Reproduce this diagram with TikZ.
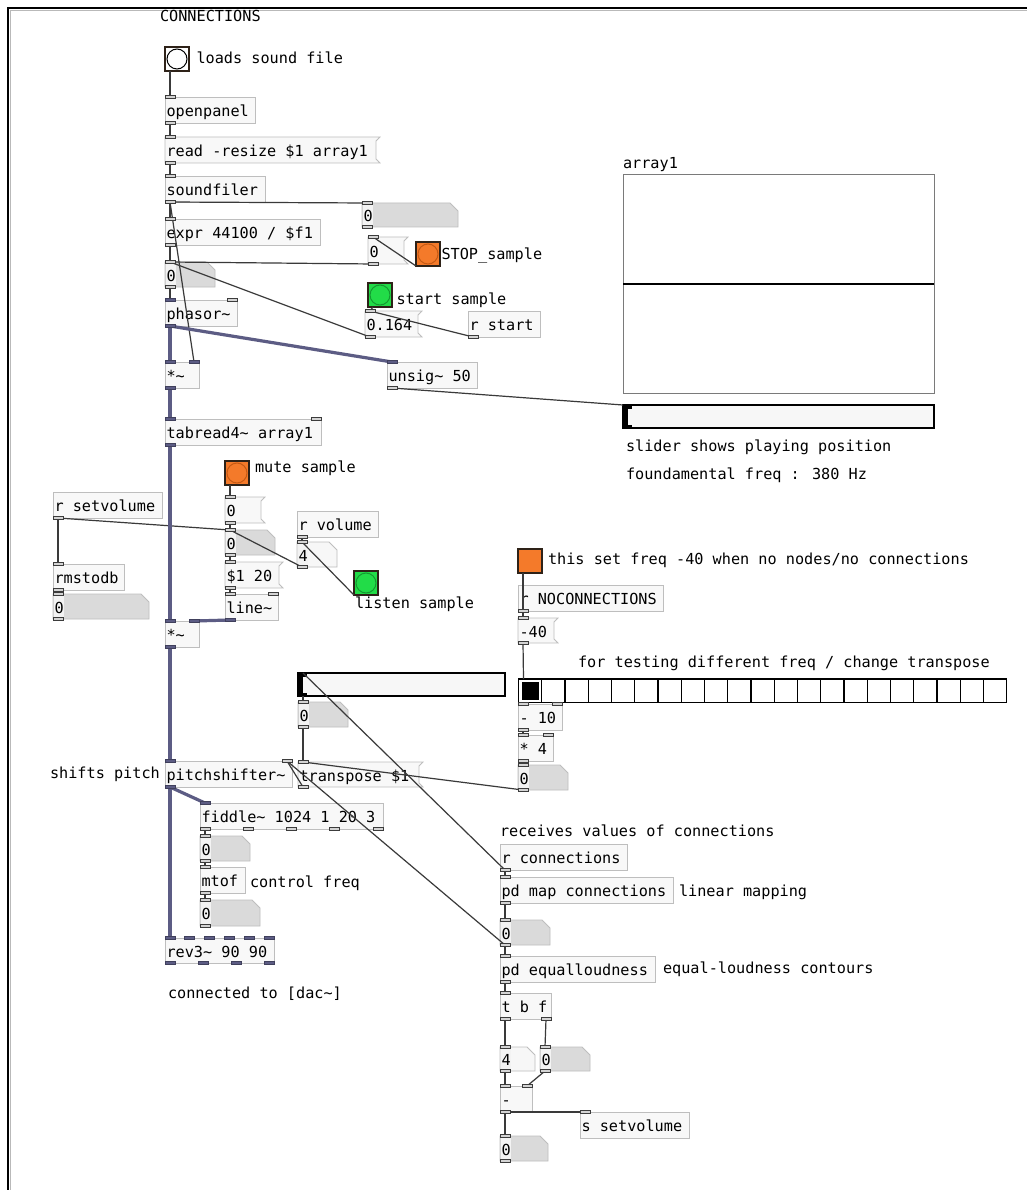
\documentclass[tikz,border=0pt]{standalone}
\usepackage{fontspec}
\newfontfamily\pdtt{DejaVu Sans Mono}
\usetikzlibrary{calc,backgrounds}
\definecolor{boxline}{HTML}{BEBEBE}
\definecolor{boxfill}{HTML}{F8F8F8}
\definecolor{atomgray}{HTML}{DADADA}
\definecolor{atomlite}{HTML}{F3F3F3}
\definecolor{atomwhite}{HTML}{F7F7F7}
\definecolor{wirec}{HTML}{3A3A3A}
\definecolor{sigc}{HTML}{5C5C84}
\definecolor{iolfill}{HTML}{D4D4D4}
\definecolor{iolline}{HTML}{3C3C3C}
\definecolor{bangorange}{HTML}{F47A2A}
\definecolor{orangeedge}{HTML}{C65A14}
\definecolor{banggreen}{HTML}{22DC48}
\definecolor{greenedge}{HTML}{149A30}
\definecolor{bangedge}{HTML}{2E2218}
\definecolor{guifill}{HTML}{F7F7F7}
\definecolor{arrline}{HTML}{7A7A7A}
\newcommand\tl{\textasciitilde}
\tikzset{
 pdnode/.style={anchor=north west, inner xsep=1.5pt, inner ysep=0pt, outer sep=0pt, text height=15pt, text depth=2pt},
 obj/.style={pdnode, draw=boxline, fill=boxfill, line width=0.8pt},
 msgshape/.style={draw=boxline, fill=boxfill, line width=0.8pt},
 atomshape/.style={draw=boxline, line width=0.8pt},
 cmt/.style={anchor=base west, inner sep=0pt, outer sep=0pt},
 ctl/.style={draw=wirec, line width=1.2pt},
 sig/.style={draw=sigc, line width=3.2pt},
 iol/.style={draw=iolline, fill=iolfill, line width=0.7pt},
 siol/.style={draw=sigc!70!black, fill=sigc, line width=0.7pt},
 bangbox/.style={anchor=north west, draw=bangedge, line width=1.2pt, minimum size=24pt, inner sep=0pt, outer sep=0pt},
 gui/.style={anchor=north west, draw=black, line width=1.3pt, fill=guifill, inner sep=0pt, outer sep=0pt},
 arraybox/.style={anchor=north west, draw=arrline, line width=1pt, fill=white, inner sep=0pt, outer sep=0pt},
}
% object box
\newcommand\pdobj[7][]{\pgfmathsetmacro\pdtw{#5-3}\node[obj,minimum width=#5pt,minimum height=#6pt,#1] (#2) at (#3,#4) {\makebox[\pdtw pt][l]{#7}};}
% message box
\newcommand\pdmsg[7][]{\pgfmathsetmacro\pdtw{#5-3}\node[pdnode,minimum width=#5pt,minimum height=#6pt,#1] (#2) at (#3,#4) {\makebox[\pdtw pt][l]{#7}};
 \begin{scope}[on background layer]\filldraw[msgshape] (#2.north west) -- ([xshift=4pt]#2.north east) -- ([yshift=-4pt]#2.north east) -- ([yshift=4pt]#2.south east) -- ([xshift=4pt]#2.south east) -- (#2.south west) -- cycle;\end{scope}}
% atom box
\newcommand\pdatom[8][]{\pgfmathsetmacro\pdtw{#5-3}\node[pdnode,minimum width=#5pt,minimum height=#6pt,#1] (#2) at (#3,#4) {\makebox[\pdtw pt][l]{#7}};
 \begin{scope}[on background layer]\filldraw[atomshape,fill=#8] (#2.north west) -- ([xshift=-8pt]#2.north east) -- ([yshift=-8pt]#2.north east) -- (#2.south east) -- (#2.south west) -- cycle;
 \fill[atomlite] ([xshift=0.6pt,yshift=-0.6pt]#2.north west) rectangle ([xshift=11pt,yshift=0.6pt]#2.south west);\end{scope}}
% bang
\newcommand\pdbang[7][]{\node[bangbox,fill=#5,#1] (#2) at (#3,#4) {};\draw[line width=1pt,draw=#7,fill=#6] (#2.center) circle (10pt);}
% iolets
\newcommand\ioT[3][iol]{\draw[#1] ($(#2.north west)+(#3,-1.5)$) rectangle +(10,3);}
\newcommand\ioB[3][iol]{\draw[#1] ($(#2.south west)+(#3,-1.5)$) rectangle +(10,3);}
\newcommand\ioTR[2][iol]{\draw[#1] ($(#2.north east)+(-10,-1.5)$) rectangle +(10,3);}
% wires
\newcommand\wire[5][ctl]{\draw[#1] ($(#2.south west)+(#3+5,0)$) -- ($(#4.north west)+(#5+5,0)$);}
\newcommand\wireR[4][ctl]{\draw[#1] ($(#2.south west)+(#3+5,0)$) -- ($(#4.north east)+(-5,0)$);}
\begin{document}
\begin{tikzpicture}[x=1pt,y=-1pt,font=\pdtt\fontsize{15.2pt}{17pt}\selectfont]
\useasboundingbox (0,0) rectangle (1027,1190);
\begin{scope}[on background layer]
\fill[white] (0,0) rectangle (1027,1190);
\end{scope}
% canvas frame
\draw[gray!55, line width=1pt] (10.3,1190) -- (10.3,10.3) -- (1027,10.3);
\draw[black, line width=2pt] (8.3,1190) -- (8.3,8.3) -- (1027,8.3);

% ---------- comments ----------
\node[cmt] (tConn) at (160,21.5) {CONNECTIONS};
\node[cmt] (tLoad) at (196.5,63.5) {loads sound file};
\node[cmt] (tStop) at (441.5,259) {STOP\_sample};
\node[cmt] (tStart) at (396.5,304) {start sample};
\node[cmt] (tMute) at (255,472) {mute sample};
\node[cmt] (tListen) at (355,608) {listen sample};
\node[cmt] (tNoc) at (548,564) {this set freq -40 when no nodes/no connections};
\node[cmt] (tTest) at (578,667.5) {for testing different freq / change transpose};
\node[cmt] (tArr) at (623,168.5) {array1};
\node[cmt] (tSl) at (626,451.5) {slider shows playing position};
\node[cmt] (tFund) at (626,479) {foundamental freq : 380 Hz};
\node[cmt] (tShift) at (50,778.5) {shifts pitch};
\node[cmt] (tCtrl) at (250,887.5) {control freq};
\node[cmt] (tDac) at (168,998) {connected to [dac\tl]};
\node[cmt] (tRecv) at (500,836.5) {receives values of connections};
\node[cmt] (tLin) at (679,896) {linear mapping};
\node[cmt] (tEq) at (663,973) {equal-loudness contours};

% ---------- objects ----------
\pdobj{o1}{165}{97}{90}{26}{openpanel}
\pdobj{o2}{165}{176}{100}{26}{soundfiler}
\pdobj{o3}{165}{219}{155}{26}{expr 44100 / \$f1}
\pdobj{o4}{165}{300}{72}{26}{phasor\tl}
\pdobj{o5}{165}{362}{34}{26}{*\tl}
\pdobj{o6}{165}{419}{156}{26}{tabread4\tl{} array1}
\pdobj{o7}{387}{362}{90}{26}{unsig\tl{} 50}
\pdobj{o8}{468}{311}{72}{26}{r start}
\pdobj{o9}{53}{492}{109}{26}{r setvolume}
\pdobj{o10}{53}{564}{71}{26}{rmstodb}
\pdobj{o11}{297}{511}{81}{26}{r volume}
\pdobj{o12}{225}{594}{53}{26}{line\tl}
\pdobj{o13}{165}{621}{34}{26}{*\tl}
\pdobj{o14}{518}{585}{145}{26}{r NOCONNECTIONS}
\pdobj{o15}{518}{704}{44}{26}{- 10}
\pdobj{o16}{518}{735}{35}{26}{* 4}
\pdobj{o17}{165}{761}{127}{26}{pitchshifter\tl}
\pdobj{o18}{200}{803}{183}{26}{fiddle\tl{} 1024 1 20 3}
\pdobj{o19}{200}{867}{45}{26}{mtof}
\pdobj{o20}{165}{938}{109}{25}{rev3\tl{} 90 90}
\pdobj{o21}{500}{844}{127}{26}{r connections}
\pdobj{o22}{500}{877}{173}{26}{pd map connections}
\pdobj{o23}{500}{956}{155}{26}{pd equalloudness}
\pdobj{o24}{500}{993}{51}{26}{t b f}
\pdobj{o25}{500}{1086}{32}{26}{-}
\pdobj{o26}{580}{1112}{109}{26}{s setvolume}

% ---------- messages ----------
\pdmsg{m1}{165}{137}{211}{26}{read -resize \$1 array1}
\pdmsg{m2}{368}{237}{36}{27}{0}
\pdmsg{m3}{365}{311}{53}{26}{0.164}
\pdmsg{m4}{225}{497}{36}{26}{0}
\pdmsg{m5}{225}{562}{54}{26}{\$1 20}
\pdmsg{m6}{298}{762}{121}{25}{transpose \$1}
\pdmsg{m7}{518}{618}{36}{25}{-40}

% ---------- atoms ----------
\pdatom{a1}{362}{203}{96}{24}{0}{atomgray}
\pdatom{a2}{165}{262}{50}{25}{0}{atomgray}
\pdatom{a3}{53}{594}{96}{25}{0}{atomgray}
\pdatom{a4}{225}{530}{50}{25}{0}{atomgray}
\pdatom{a5}{298}{702}{50}{25}{0}{atomgray}
\pdatom{a6}{518}{765}{50}{25}{0}{atomgray}
\pdatom{a7}{200}{836}{50}{25}{0}{atomgray}
\pdatom{a8}{200}{900}{60}{26}{0}{atomgray}
\pdatom{a9}{500}{920}{50}{25}{0}{atomgray}
\pdatom{a10}{540}{1047}{50}{24}{0}{atomgray}
\pdatom{a11}{500}{1136}{48}{25}{0}{atomgray}
\pdatom{w1}{297}{542}{40}{25}{4}{atomwhite}
\pdatom{w2}{500}{1047}{35}{24}{4}{atomwhite}

% ---------- bangs ----------
\pdbang{b1}{165}{47}{white}{white}{black}
\pdbang{b2}{416}{242}{bangorange}{bangorange}{orangeedge}
\pdbang{b3}{368}{283}{banggreen}{banggreen}{greenedge}
\pdbang{b4}{225}{461}{bangorange}{bangorange}{orangeedge}
\pdbang{b5}{354}{571}{banggreen}{banggreen}{greenedge}
\pdbang{b6}{518}{549}{bangorange}{bangorange}{bangorange}

% ---------- array, sliders, radio ----------
\node[arraybox, minimum width=311pt, minimum height=218pt] (arr) at (623,175) {};
\draw[line width=2.4pt] (arr.west) -- (arr.east);
\node[gui, minimum width=311pt, minimum height=23pt] (sl1) at (623,405) {};
\fill ($(sl1.north west)+(1,1)$) rectangle +(4,21);
\fill ($(sl1.north west)+(1,1)$) rectangle +(8,2.5);
\fill ($(sl1.south west)+(1,-1)$) rectangle +(8,-2.5);
\node[gui, minimum width=207pt, minimum height=23pt] (sl2) at (298,673) {};
\fill ($(sl2.north west)+(1,1)$) rectangle +(4,21);
\fill ($(sl2.north west)+(1,1)$) rectangle +(8,2.5);
\fill ($(sl2.south west)+(1,-1)$) rectangle +(8,-2.5);
\node[gui, fill=white, minimum width=488.25pt, minimum height=23.5pt] (hr) at (518.5,679) {};
\foreach \i in {1,...,20} \draw[line width=1.1pt] ($(hr.north west)+(\i*23.25,0)$) -- ($(hr.south west)+(\i*23.25,0)$);
\fill ($(hr.north west)+(3,3)$) rectangle +(17,17.5);

% ---------- control wires ----------
\draw[ctl] ([xshift=5pt]b1.south west) -- ([xshift=5pt]o1.north west);
\wire{o1}{0}{m1}{0}
\wire{m1}{0}{o2}{0}
\wire{o2}{0}{o3}{0}
\wire{o2}{0}{a1}{0}
\wireR{o2}{0}{o5}
\wire{o3}{0}{a2}{0}
\wire{m2}{0}{a2}{0}
\wire{m3}{0}{a2}{0}
\wire{o8}{0}{m3}{0}
\draw[ctl] ([xshift=5pt]b3.south west) -- ([xshift=5pt]m3.north west);
\draw[ctl] (b2.south west) -- ([xshift=5pt]m2.north west);
\wire{a2}{0}{o4}{0}
\draw[ctl] ([xshift=5pt]o7.south west) -- (sl1.north west);
\draw[ctl] ([xshift=5pt]b4.south west) -- ([xshift=5pt]m4.north west);
\wire{m4}{0}{a4}{0}
\wire{a4}{0}{m5}{0}
\wire{m5}{0}{o12}{0}
\wire{o9}{0}{o10}{0}
\wire{o9}{0}{a4}{0}
\wire{o10}{0}{a3}{0}
\wire{o11}{0}{w1}{0}
\wire{w1}{0}{a4}{0}
\draw[ctl] (b5.south west) -- ([xshift=5pt]w1.north west);
\draw[ctl] ([xshift=5pt]b6.south west) -- ([xshift=5pt]m7.north west);
\wire{o14}{0}{m7}{0}
\draw[ctl] ([xshift=5pt]m7.south west) -- ([xshift=5pt]hr.north west);
\draw[ctl] ([xshift=5pt]hr.south west) -- ([xshift=5pt]o15.north west);
\wire{o15}{0}{o16}{0}
\wire{o16}{0}{a6}{0}
\wire{a6}{0}{m6}{0}
\draw[ctl] ([xshift=5pt]o21.south west) -- ([xshift=5pt]sl2.north west);
\draw[ctl] ([xshift=5pt]sl2.south west) -- ([xshift=5pt]a5.north west);
\wire{a5}{0}{m6}{0}
\wireR{m6}{0}{o17}
\wireR{a9}{0}{o17}
\wire{o18}{0}{a7}{0}
\wire{a7}{0}{o19}{0}
\wire{o19}{0}{a8}{0}
\wire{o21}{0}{o22}{0}
\wire{o22}{0}{a9}{0}
\wire{a9}{0}{o23}{0}
\wire{o23}{0}{o24}{0}
\wire{o24}{0}{w2}{0}
\wire{o24}{41}{a10}{0}
\wire{w2}{0}{o25}{0}
\wireR{a10}{0}{o25}
\wire{o25}{0}{o26}{0}
\wire{o25}{0}{a11}{0}

% ---------- signal wires ----------
\wire[sig]{o4}{0}{o5}{0}
\wire[sig]{o4}{0}{o7}{0}
\wire[sig]{o5}{0}{o6}{0}
\wire[sig]{o6}{0}{o13}{0}
\wireR[sig]{o12}{0}{o13}
\wire[sig]{o13}{0}{o17}{0}
\wire[sig]{o17}{0}{o20}{0}
\wire[sig]{o17}{0}{o18}{0}

% ---------- iolets ----------
\ioT{o1}{0}\ioB{o1}{0}
\ioT{m1}{0}\ioB{m1}{0}
\ioT{o2}{0}\ioB{o2}{0}
\ioT{o3}{0}\ioB{o3}{0}
\ioT{a1}{0}\ioB{a1}{0}
\ioT{m2}{0}\ioB{m2}{0}
\ioT{a2}{0}\ioB{a2}{0}
\ioT[siol]{o4}{0}\ioTR{o4}\ioB[siol]{o4}{0}
\ioT{m3}{0}\ioB{m3}{0}
\ioB{o8}{0}
\ioT[siol]{o5}{0}\ioTR[siol]{o5}\ioB[siol]{o5}{0}
\ioT[siol]{o7}{0}\ioB{o7}{0}
\ioT[siol]{o6}{0}\ioTR{o6}\ioB[siol]{o6}{0}
\ioT{m4}{0}\ioB{m4}{0}
\ioT{a4}{0}\ioB{a4}{0}
\ioT{m5}{0}\ioB{m5}{0}
\ioT{o12}{0}\ioTR{o12}\ioB[siol]{o12}{0}
\ioB{o9}{0}
\ioT{o10}{0}\ioB{o10}{0}
\ioT{a3}{0}\ioB{a3}{0}
\ioB{o11}{0}
\ioT{w1}{0}\ioB{w1}{0}
\ioT[siol]{o13}{0}\ioTR[siol]{o13}\ioB[siol]{o13}{0}
\ioB{o14}{0}
\ioT{m7}{0}\ioB{m7}{0}
\ioT{o15}{0}\ioTR{o15}\ioB{o15}{0}
\ioT{o16}{0}\ioTR{o16}\ioB{o16}{0}
\ioT{a6}{0}\ioB{a6}{0}
\ioT{a5}{0}\ioB{a5}{0}
\ioT{m6}{0}\ioB{m6}{0}
\ioT[siol]{o17}{0}\ioTR{o17}\ioB[siol]{o17}{0}
\ioT[siol]{o18}{0}
\foreach \k in {0,43.25,86.5,129.75,173} {\ioB{o18}{\k}}
\ioT{a7}{0}\ioB{a7}{0}
\ioT{o19}{0}\ioB{o19}{0}
\ioT{a8}{0}\ioB{a8}{0}
\foreach \k in {0,19.8,39.6,59.4,79.2,99} {\ioT[siol]{o20}{\k}}
\foreach \k in {0,33,66,99} {\ioB[siol]{o20}{\k}}
\ioB{o21}{0}
\ioT{o22}{0}\ioB{o22}{0}
\ioT{a9}{0}\ioB{a9}{0}
\ioT{o23}{0}\ioB{o23}{0}
\ioT{o24}{0}\ioB{o24}{0}\ioB{o24}{41}
\ioT{w2}{0}\ioB{w2}{0}
\ioT{a10}{0}\ioB{a10}{0}
\ioT{o25}{0}\ioTR{o25}\ioB{o25}{0}
\ioT{o26}{0}
\ioT{a11}{0}\ioB{a11}{0}
\end{tikzpicture}
\end{document}
